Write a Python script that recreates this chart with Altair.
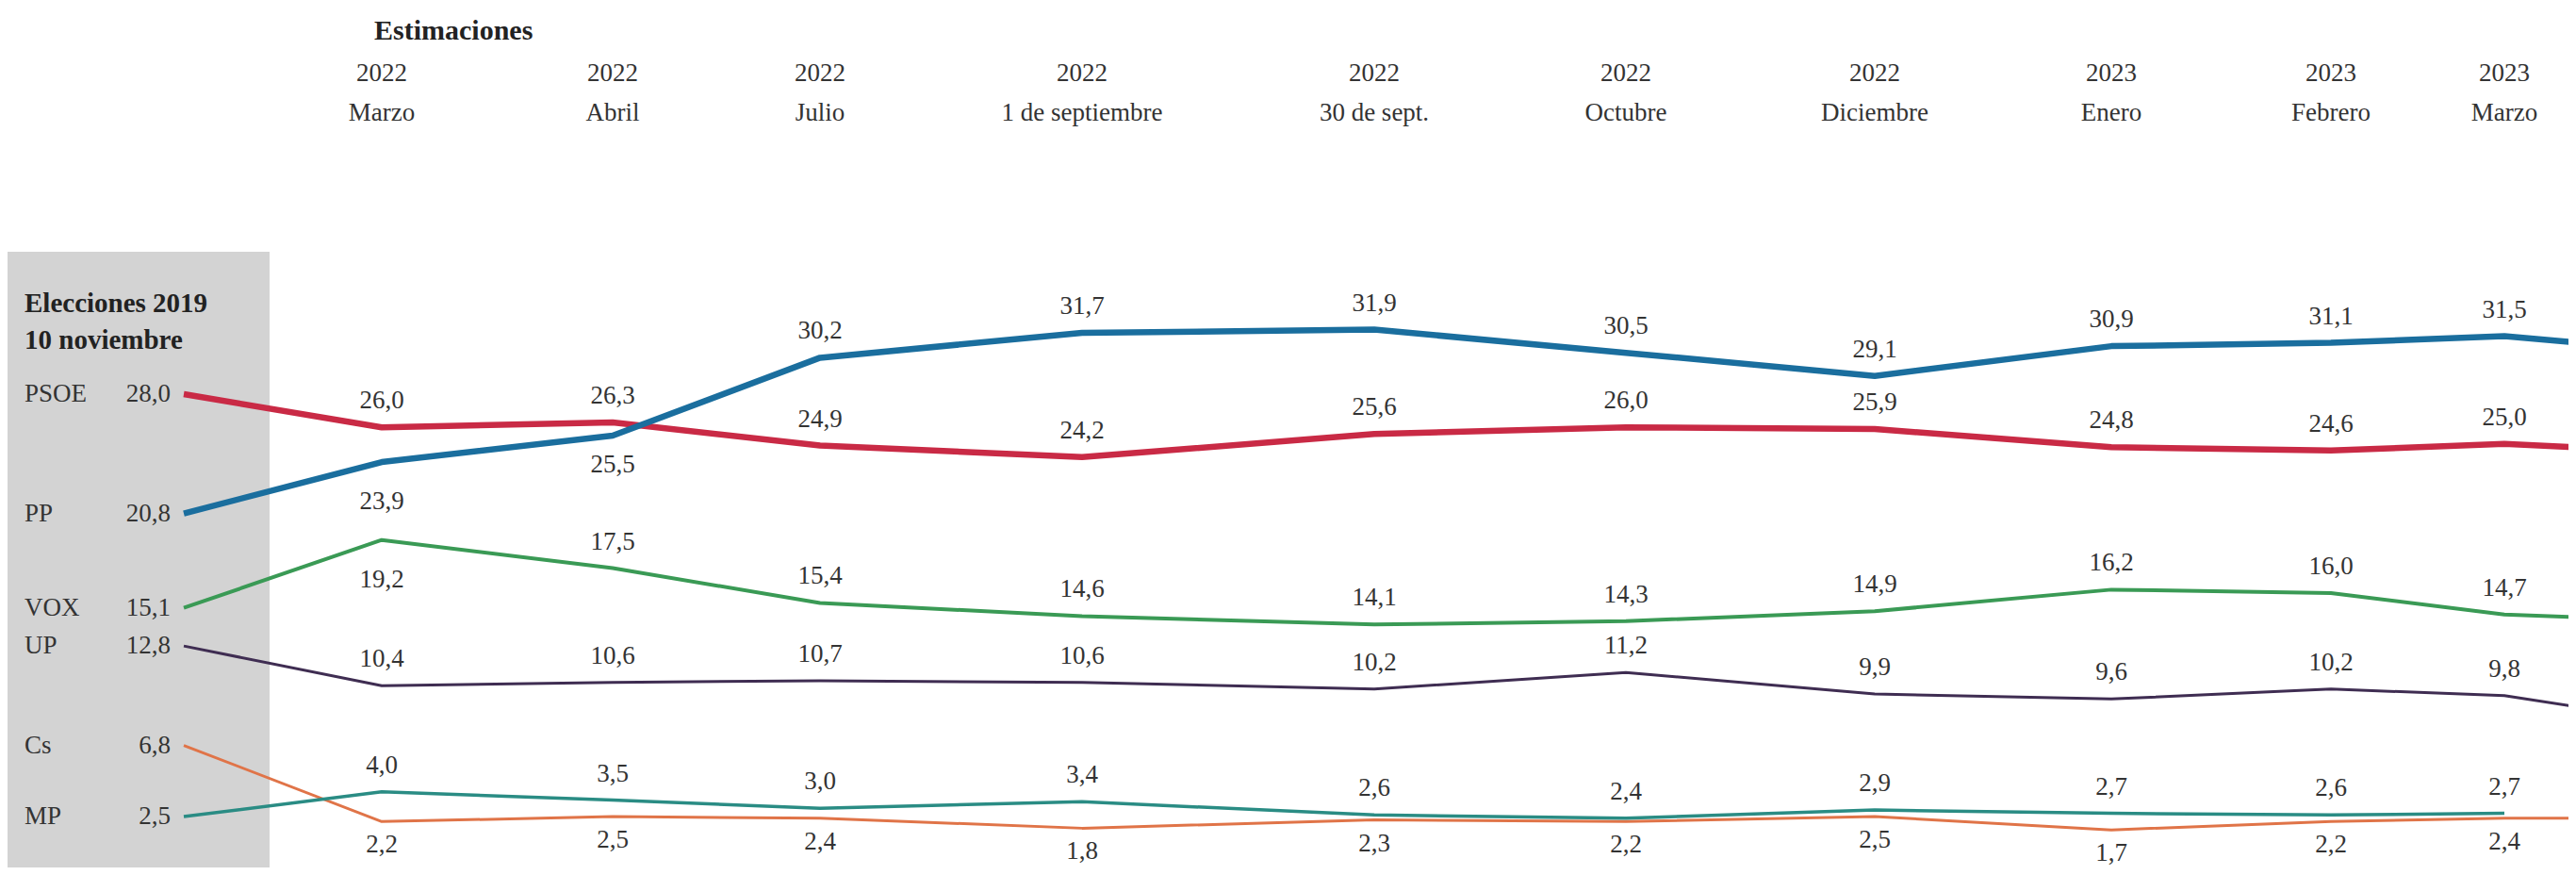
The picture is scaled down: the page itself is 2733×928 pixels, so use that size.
import altair as alt
import pandas as pd

# ---------------- data ----------------
periods = ["Elecciones 2019", "Marzo 2022", "Abril 2022", "Julio 2022", "1 sept. 2022",
           "30 sept. 2022", "Octubre 2022", "Diciembre 2022", "Enero 2023",
           "Febrero 2023", "Marzo 2023"]
header_years = ["2022", "2022", "2022", "2022", "2022", "2022", "2022", "2023", "2023", "2023"]
header_months = ["Marzo", "Abril", "Julio", "1 de septiembre", "30 de sept.", "Octubre",
                 "Diciembre", "Enero", "Febrero", "Marzo"]

parties = ["PSOE", "PP", "VOX", "UP", "Cs", "MP"]
psoe = [28.0, 26.0, 26.3, 24.9, 24.2, 25.6, 26.0, 25.9, 24.8, 24.6, 25.0]
pp = [20.8, 23.9, 25.5, 30.2, 31.7, 31.9, 30.5, 29.1, 30.9, 31.1, 31.5]
vox = [15.1, 19.2, 17.5, 15.4, 14.6, 14.1, 14.3, 14.9, 16.2, 16.0, 14.7]
up = [12.8, 10.4, 10.6, 10.7, 10.6, 10.2, 11.2, 9.9, 9.6, 10.2, 9.8]
cs = [6.8, 2.2, 2.5, 2.4, 1.8, 2.3, 2.2, 2.5, 1.7, 2.2, 2.4]
mp = [2.5, 4.0, 3.5, 3.0, 3.4, 2.6, 2.4, 2.9, 2.7, 2.6, 2.7]
series = {"PSOE": psoe, "PP": pp, "VOX": vox, "UP": up, "Cs": cs, "MP": mp}

# next (cut-off) estimate, only partly visible at the right edge
tail = {"PSOE": 24.5, "PP": 30.6, "VOX": 14.3, "UP": 8.2, "Cs": 2.4}

# labels placed under their line instead of above (with their offset)
below_far = {("PP", 1), ("VOX", 1)}
below_near = {("PP", 2)}

# ---------------- layout / styles ----------------
# horizontal placement of the columns in the graphic (uneven, as in the original)
column_px = [187, 397, 642, 862, 1140, 1450, 1717, 1981, 2232, 2465, 2649, 2833]

colors = {"PSOE": "#c92a45", "PP": "#1a6e9e", "VOX": "#3a9a55",
          "UP": "#3f2d52", "Cs": "#e07448", "MP": "#2a8c84"}
widths = {"PSOE": 6.5, "PP": 6.5, "VOX": 4, "UP": 3, "Cs": 3, "MP": 3.5}
draw_order = ["Cs", "MP", "UP", "VOX", "PSOE", "PP"]

FONT = "Liberation Serif"
TXT = "#333333"
FS = 27

# ---------------- tables ----------------
rows = []
for p in parties:
    for i, v in enumerate(series[p]):
        rows.append({"party": p, "idx": i, "period": periods[i], "value": v})
    if p in tail:
        rows.append({"party": p, "idx": len(periods), "period": "next", "value": tail[p]})
df = pd.DataFrame(rows)

lab = df[(df.idx >= 1) & (df.idx <= 10)].copy()
lab["label"] = lab["value"].map(lambda v: f"{v:.1f}".replace(".", ","))


def where(p, i):
    if p == "Cs":
        return "cs"
    if (p, i) in below_far:
        return "far"
    if (p, i) in below_near:
        return "near"
    return "above"


lab["pos"] = [where(p, i) for p, i in zip(lab.party, lab.idx)]

start = df[df.idx == 0].copy()
start["label"] = start["value"].map(lambda v: f"{v:.1f}".replace(".", ","))

head = pd.DataFrame({"idx": list(range(1, 11)), "year": header_years, "month": header_months})

xs = alt.X("idx:Q", scale=alt.Scale(domain=list(range(len(column_px))), range=column_px,
                                    nice=False, zero=False), axis=None)
ys = alt.Y("value:Q", scale=alt.Scale(domain=[0, 51.34], nice=False), axis=None)

layers = []

# grey box for the 2019 election column
box = alt.Chart(pd.DataFrame({"a": [0]})).mark_rect(color="#d3d3d3").encode(
    x=alt.value(0), x2=alt.value(278), y=alt.value(259), y2=alt.value(912))
layers.append(box)

# lines
for p in draw_order:
    layers.append(
        alt.Chart(df[df.party == p]).mark_line(
            color=colors[p], strokeWidth=widths[p], clip=True,
            strokeJoin="round", strokeCap="butt"
        ).encode(x=xs, y=ys, order="idx:Q")
    )

# value labels
for pos, dy in [("above", -28), ("far", 42), ("near", 31), ("cs", 25)]:
    layers.append(
        alt.Chart(lab[lab.pos == pos]).mark_text(
            font=FONT, fontSize=FS, color=TXT, baseline="middle", align="center", dy=dy
        ).encode(x=xs, y=ys, text="label:N")
    )

# 2019 results on the left
start_val = alt.Chart(start).mark_text(
    font=FONT, fontSize=FS, color=TXT, baseline="middle", align="right", dx=-14
).encode(x=xs, y=ys, text="label:N")
start_name = alt.Chart(start).mark_text(
    font=FONT, fontSize=FS, color=TXT, baseline="middle", align="left"
).encode(x=alt.value(18), y=ys, text="party:N")
layers += [start_val, start_name]

title_box = alt.Chart(pd.DataFrame({"t": ["Elecciones 2019", "10 noviembre"],
                                    "yy": [0, 1]})).mark_text(
    font=FONT, fontSize=29, fontWeight="bold", color="#222222",
    baseline="middle", align="left"
).encode(x=alt.value(18),
         y=alt.Y("yy:O", scale=alt.Scale(type="point", range=[314, 353], padding=0), axis=None),
         text="t:N")
layers.append(title_box)

# header
est = alt.Chart(pd.DataFrame({"idx": [1], "t": ["Estimaciones"]})).mark_text(
    font=FONT, fontSize=30, fontWeight="bold", color="#222222",
    baseline="middle", align="left", dx=-8
).encode(x=xs, y=alt.value(25), text="t:N")
yrs = alt.Chart(head).mark_text(
    font=FONT, fontSize=FS, color=TXT, baseline="middle", align="center"
).encode(x=xs, y=alt.value(70), text="year:N")
mos = alt.Chart(head).mark_text(
    font=FONT, fontSize=FS, color=TXT, baseline="middle", align="center"
).encode(x=xs, y=alt.value(112), text="month:N")
layers += [est, yrs, mos]

chart = alt.layer(*layers).resolve_scale(y="independent").properties(
    width=2717, height=902,
    padding={"left": 0, "top": 0, "right": 0, "bottom": 10},
    autosize=alt.AutoSizeParams(type="none"),
    background="white",
).configure_view(stroke=None)

chart.save("out.html", embed_options={"renderer": "svg", "actions": False})
